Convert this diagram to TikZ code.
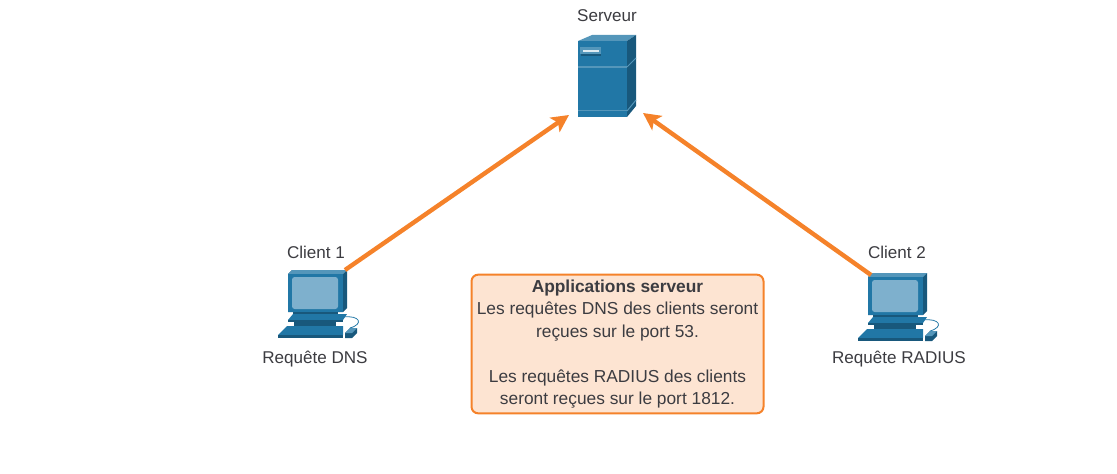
\documentclass[tikz,border=0pt]{standalone}
\usepackage{fontspec}
\setmainfont{Liberation Sans}
\usetikzlibrary{positioning,arrows.meta}
\definecolor{devblue}{RGB}{33,119,166}
\definecolor{devdark}{RGB}{24,88,124}
\definecolor{devlight}{RGB}{84,150,186}
\definecolor{devscreen}{RGB}{126,176,205}
\definecolor{linkorange}{RGB}{245,130,42}
\definecolor{notefill}{RGB}{253,228,210}
\definecolor{labeltext}{RGB}{60,60,65}
\tikzset{
  label text/.style={text=labeltext,font=\fontsize{12.8}{14}\selectfont,inner sep=0pt},
  link/.style={draw=linkorange,line width=3.3pt,-{Stealth[length=13pt,width=13pt,inset=3pt]}},
  note/.style={draw=linkorange,line width=1.5pt,fill=notefill,rounded corners=5pt,minimum width=219pt,minimum height=104pt,inner sep=0pt,align=center,text=labeltext,font=\fontsize{13}{16.9}\selectfont},
  pics/client/.style={code={
    %monitor
    \fill [devdark] (4,-4) -- (59,-4) -- (59,34) -- (55,38) -- (0,38) -- (0,0) -- cycle;
    \fill [devlight] (0,0) -- (4,-4) -- (59,-4) -- (55,0) -- cycle;
    \fill [devblue] (0,0) rectangle (55,38);
    \fill [devscreen,rounded corners=2pt] (4,3) rectangle (50,35);
    %stand
    \fill [devdark] (5,38) rectangle (50,41);
    \fill [devblue] (0,46) -- (5,40) -- (59,40) -- (55,46) -- cycle;
    \fill [devdark] (0,46) rectangle (55,48);
    \fill [devdark] (6,48) rectangle (48,52);
    %keyboard and mouse
    \fill [devblue] (-10,61) -- (-1,52) -- (55,52) -- (55,61) -- cycle;
    \fill [devdark] (-10,61) rectangle (55,64);
    \fill [devdark] (57,64) -- (57,59) -- (62,54) -- (69,54) -- (69,59) -- (64,64) -- cycle;
    \fill [devlight] (57,59) -- (62,54) -- (69,54) -- (64,59) -- cycle;
    \draw [devblue,line width=0.6pt] (55,43) .. controls (72,41) and (76,50) .. (62,54);
  }}
}
\begin{document}
\begin{tikzpicture}[x=0.75pt,y=-0.75pt]
\useasboundingbox (0,0) rectangle (1117,474);
%the server
\fill [devblue] (578,41) rectangle (627,117);
\fill [devlight] (578,41) -- (592,35) -- (636,35) -- (627,41) -- cycle;
\fill [devdark] (627,41) -- (636,35) -- (636,106) -- (627,117) -- cycle;
\fill [devlight] (578,66.5) rectangle (627,68);
\draw [devlight,line width=0.75pt] (627,67) -- (636,58);
\fill [devlight] (578,110) rectangle (627,111.5);
\draw [devlight,line width=0.75pt] (627,111) -- (636,100);
\fill [devdark] (581,50) rectangle (601,56);
\fill [devlight] (580,47) rectangle (601,54);
\fill [white!85!devblue] (583,50) rectangle (599,52);
\coordinate (serverLeft) at (569,115);
\coordinate (serverRight) at (643,113);
%the clients
\pic at (288,274) {client};
\pic at (868,277) {client};
\coordinate (clientOne) at (345,270);
\coordinate (clientTwo) at (871,275);
%the nodes
\node [label text] (serverName) at (607,16) {Serveur};
\node [label text] (clientOneName) at (316,252) {Client 1};
\node [label text] (clientTwoName) at (897,252) {Client 2};
\node [label text] (dnsName) at (315,359) {Requête DNS};
\node [label text] (radiusName) at (899,359) {Requête RADIUS};
\node [note] (serverApps) at (617.5,344) {\textbf{Applications serveur}\\Les requêtes DNS des clients seront\\reçues sur le port 53.\\[16.9pt]Les requêtes RADIUS des clients\\seront reçues sur le port 1812.};
%drawings of lines
\draw [link] (clientOne) -- (serverLeft);
\draw [link] (clientTwo) -- (serverRight);
\end{tikzpicture}
\end{document}
